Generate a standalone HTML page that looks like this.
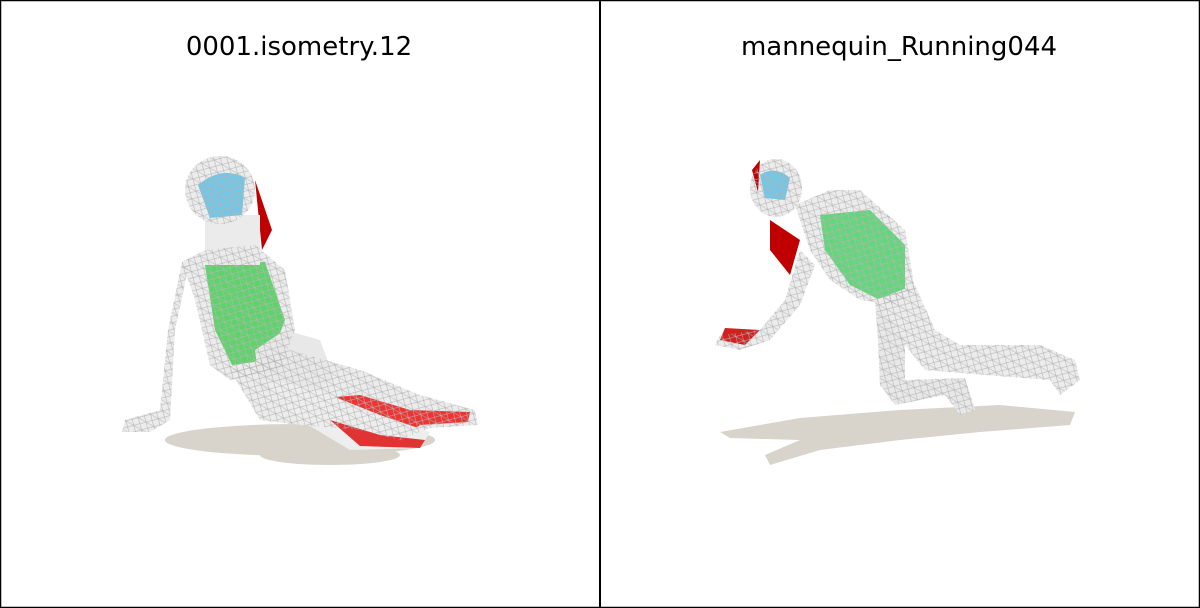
<!DOCTYPE html>
<html><head><meta charset="utf-8"><style>
html,body{margin:0;padding:0;background:#fff;}
#root{position:relative;width:1200px;height:608px;overflow:hidden;}
svg{position:absolute;left:0;top:0;}
text{font-family:"DejaVu Sans","Liberation Sans",sans-serif;font-size:26px;fill:#000;}
</style></head><body>
<div id="root">
<svg width="1200" height="608" viewBox="0 0 1200 608">
<defs>
<pattern id="mesh" width="9" height="9" patternUnits="userSpaceOnUse" patternTransform="rotate(30)">
<path d="M0 0L9 9M9 0L0 9M0 4.5H9" stroke="#b4b4b4" stroke-width="0.6" fill="none"/>
</pattern>
</defs>
<rect x="0.5" y="0.5" width="1199" height="607" fill="#fff" stroke="#000" stroke-width="1.5"/>
<line x1="600" y1="0" x2="600" y2="608" stroke="#000" stroke-width="2"/>

<g>
<text x="299" y="55" text-anchor="middle">0001.isometry.12</text>
<ellipse cx="300" cy="440" rx="135" ry="16" fill="#d8d4cb"/>
<ellipse cx="330" cy="455" rx="70" ry="10" fill="#d8d4cb"/>
<g>
<path d="M255 180 L272 230 L262 250 Z" fill="#c00000"/>
<path d="M285 290 L300 360 L290 380 Z" fill="#c00000"/>
<path d="M190 260 L175 330 L170 420 L150 432 L122 432 L125 420 L160 410 L168 330 L182 262 Z" fill="#ececec"/>
<path d="M182 262 L205 250 L255 245 L285 270 L295 330 L280 370 L230 380 L210 365 L195 300 Z" fill="#ececec"/>
<path d="M205 265 L265 262 L285 320 L270 360 L232 365 L215 330 Z" fill="#5ed36a"/>
<path d="M230 370 L290 350 L360 370 L420 395 L475 410 L478 425 L430 428 L400 440 L360 430 L300 425 L260 420 Z" fill="#ececec"/>
<path d="M300 400 L360 395 L410 410 L470 412 L468 422 L420 425 L400 440 L350 430 L300 420 Z" fill="#e33"/>
<path d="M255 350 L285 330 L320 340 L335 380 L300 395 L260 390 Z" fill="#e8e8e8"/>
<path d="M262 380 L300 420 L350 450 L420 448 L430 432 L380 415 L330 395 L300 385 Z" fill="#eeeeee"/>
<path d="M330 420 L380 435 L425 440 L420 448 L360 446 Z" fill="#e03333"/>
<rect x="205" y="215" width="55" height="50" fill="#ebebeb"/>
<ellipse cx="220" cy="190" rx="35" ry="34" fill="#ececec"/>
<path d="M198 185 Q222 165 245 178 L242 215 L210 218 Z" fill="#72c6e6"/>
</g>
<g fill="url(#mesh)">
<ellipse cx="220" cy="190" rx="35" ry="34"/>
<path d="M182 262 L205 250 L255 245 L285 270 L295 330 L280 370 L230 380 L210 365 L195 300 Z"/>
<path d="M230 370 L290 350 L360 370 L420 395 L475 410 L478 425 L430 428 L400 440 L360 430 L300 425 L260 420 Z"/>
<path d="M190 260 L175 330 L170 420 L150 432 L122 432 L125 420 L160 410 L168 330 L182 262 Z"/>
</g>
</g>

<g>
<text x="899" y="55" text-anchor="middle">mannequin_Running044</text>
<path d="M720 432 L800 418 L900 410 L1000 405 L1075 412 L1070 425 L980 432 L900 440 L820 450 L770 465 L765 455 L800 440 L730 438 Z" fill="#d8d4cb"/>
<g>
<path d="M770 220 L800 240 L790 275 L770 250 Z" fill="#c00000"/>
<path d="M800 250 L785 300 L760 330 L720 335 L715 345 L740 350 L770 340 L800 305 L815 265 Z" fill="#ececec"/>
<path d="M725 328 L760 330 L745 345 L720 340 Z" fill="#d02020"/>
<path d="M795 205 L830 190 L860 190 L905 230 L915 290 L895 305 L860 300 L830 280 L810 250 Z" fill="#ececec"/>
<path d="M820 215 L870 210 L905 245 L905 290 L880 300 L850 285 L825 250 Z" fill="#62d67a"/>
<path d="M875 300 L915 285 L935 330 L960 345 L1040 345 L1075 360 L1080 380 L1060 395 L1050 380 L985 375 L925 370 L905 345 Z" fill="#ececec"/>
<path d="M875 300 L905 340 L905 380 L965 378 L975 410 L960 415 L945 395 L895 405 L880 385 L878 340 Z" fill="#e8e8e8"/>
<ellipse cx="776" cy="188" rx="26" ry="29" fill="#ececec"/>
<path d="M760 175 Q775 165 790 178 L785 200 L765 198 Z" fill="#72c6e6"/>
<path d="M752 170 L760 160 L758 192 Z" fill="#c00000"/>
</g>
<g fill="url(#mesh)">
<ellipse cx="776" cy="188" rx="26" ry="29"/>
<path d="M795 205 L830 190 L860 190 L905 230 L915 290 L895 305 L860 300 L830 280 L810 250 Z"/>
<path d="M875 300 L915 285 L935 330 L960 345 L1040 345 L1075 360 L1080 380 L1060 395 L1050 380 L985 375 L925 370 L905 345 Z"/>
<path d="M875 300 L905 340 L905 380 L965 378 L975 410 L960 415 L945 395 L895 405 L880 385 L878 340 Z"/>
<path d="M800 250 L785 300 L760 330 L720 335 L715 345 L740 350 L770 340 L800 305 L815 265 Z"/>
</g>
</g>
</svg>
</div>
</body></html>
